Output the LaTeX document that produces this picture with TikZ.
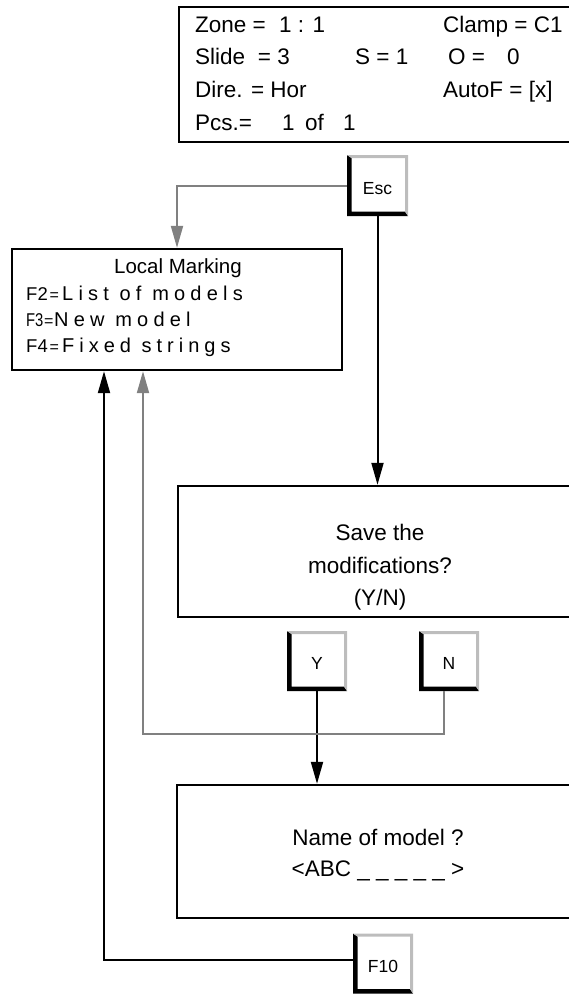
\documentclass[tikz,border=0pt]{standalone}
\usepackage{fontspec}
\usepackage{graphicx}
\setmainfont{Liberation Sans}
\usetikzlibrary{arrows.meta}
\definecolor{linegray}{HTML}{808080}
\definecolor{keygray}{HTML}{BDBDBD}
\begin{document}
\begin{tikzpicture}[x=1pt,y=-1pt,
  scrbox/.style={rectangle, draw=black, line width=2.4pt, inner sep=0pt},
  keybtn/.style={rectangle, minimum width=61pt, minimum height=61pt, inner sep=0pt,
    font=\fontsize{17.5}{17.5}\selectfont, text height=17pt, text depth=0pt,
    path picture={
      \fill[black] (path picture bounding box.north west) -- (path picture bounding box.south west)
        -- (path picture bounding box.south east) -- ([xshift=-3pt,yshift=4.5pt]path picture bounding box.south east)
        -- ([xshift=4.5pt,yshift=4.5pt]path picture bounding box.south west)
        -- ([xshift=4.5pt,yshift=-3pt]path picture bounding box.north west) -- cycle;
      \fill[keygray] (path picture bounding box.north west) -- (path picture bounding box.north east)
        -- (path picture bounding box.south east) -- ([xshift=-3pt,yshift=4.5pt]path picture bounding box.south east)
        -- ([xshift=-3pt,yshift=-3pt]path picture bounding box.north east)
        -- ([xshift=4.5pt,yshift=-3pt]path picture bounding box.north west) -- cycle;
    }},
  stxt/.style={anchor=base west, inner sep=0pt, font=\fontsize{22.5}{27}\selectfont},
  ctxt/.style={anchor=base, inner sep=0pt, font=\fontsize{22.5}{27}\selectfont},
  ltxt/.style={anchor=base west, inner sep=0pt, font=\fontsize{20}{24}\selectfont},
  ktxt/.style={anchor=base west, inner sep=0pt, font=\fontsize{18.5}{22}\selectfont},
  eqs/.style={anchor=base west, inner sep=0pt, font=\fontsize{16}{18}\selectfont},
  gline/.style={draw=linegray, line width=2pt, -{Triangle[length=22pt,width=12pt]}},
  bline/.style={draw=black, line width=2pt, -{Triangle[length=22pt,width=12pt]}}
]
\useasboundingbox (0,0) rectangle (569,994);
\clip (0,0) rectangle (569,994);

% screens
\node[scrbox, minimum width=421pt, minimum height=135pt] (status) at (389.5,74.5) {};
\node[scrbox, minimum width=330pt, minimum height=121pt] (lm) at (177,309.5) {};
\node[scrbox, minimum width=422pt, minimum height=131pt] (save) at (389,551.5) {};
\node[scrbox, minimum width=423pt, minimum height=133pt] (mname) at (388.5,851.5) {};

% status screen text
\node[stxt] (t1a) at (195,32) {Zone =};
\node[stxt] (t1b) at (279,32) {1 : 1};
\node[stxt] (t1c) at (443,32) {Clamp = C1};
\node[stxt] (t2a) at (195,64) {Slide};
\node[stxt, anchor=base east] (t2b) at (290,64) {= 3};
\node[stxt] (t2c) at (355,64) {S = 1};
\node[stxt] (t2d) at (448,64) {O =};
\node[stxt] (t2e) at (507,64) {0};
\node[stxt] (t3a) at (195,97) {Dire. = Hor};
\node[stxt] (t3b) at (443,97) {AutoF = [x]};
\node[stxt] (t4a) at (195,130) {Pcs.=};
\node[stxt] (t4b) at (282,130) {1};
\node[stxt] (t4c) at (305,130) {of};
\node[stxt] (t4d) at (343,130) {1};

% local marking text
\node[anchor=base, inner sep=0pt, font=\fontsize{20.5}{24}\selectfont] (lmt) at (178,273) {Local Marking};
\node[ktxt] (f2k) at (26,300) {F2};
\node[eqs] (f2e) at (49.5,300) {=};
\node[ltxt] (f2t) at (62,300) {\addfontfeature{LetterSpace=26}List of models};
\node[ktxt] (f3k) at (26,326) {\scalebox{0.8}[1]{F3}};
\node[eqs] (f3e) at (44,326) {=};
\node[ltxt] (f3t) at (54,326) {\addfontfeature{LetterSpace=26}New model};
\node[ktxt] (f4k) at (26,352) {F4};
\node[eqs] (f4e) at (49.5,352) {=};
\node[ltxt] (f4t) at (62,352) {\addfontfeature{LetterSpace=25}Fixed strings};

% save text
\node[ctxt] (s1) at (380,540) {Save the};
\node[ctxt] (s2) at (380,573) {modifications?};
\node[ctxt] (s3) at (380,605) {(Y/N)};

% name text
\node[ctxt] (n1) at (378,845) {Name of model ?};
\node[ctxt] (n2) at (378,876) {<ABC \_ \_ \_ \_ \_ >};

% keys
\node[keybtn] (esc) at (377.5,185.5) {Esc};
\node[keybtn, minimum width=60pt, minimum height=60pt] (ykey) at (317,661) {Y};
\node[keybtn, minimum width=60pt, minimum height=60pt] (nkey) at (449,661) {N};
\node[keybtn, minimum width=60pt, minimum height=60pt] (f10) at (383,963.5) {F10};

% connectors
\coordinate (gturn) at (143,734);
\coordinate (fturn) at (104,960);
\draw[gline] (esc.west) -| (lm.north);
\draw[bline] (esc.south) -- (esc.south |- save.north);
\draw[bline] (ykey.south) -- (ykey.south |- mname.north);
\draw[gline] ([xshift=-5pt]nkey.south) |- (gturn) -- (gturn |- lm.south);
\draw[bline] (f10.west |- fturn) -- (fturn) -- (fturn |- lm.south);
\end{tikzpicture}
\end{document}
